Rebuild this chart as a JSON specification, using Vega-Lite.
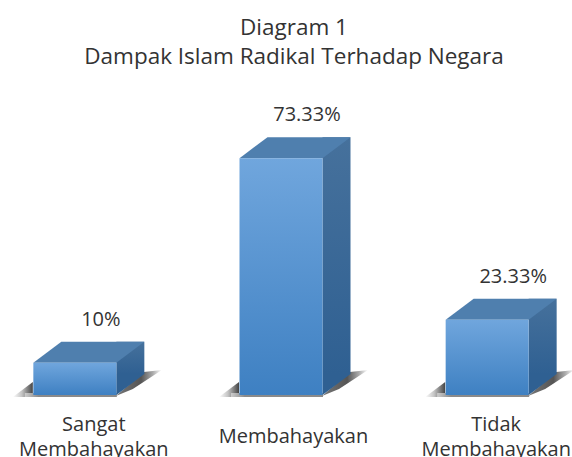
{
  "$schema": "https://vega.github.io/schema/vega-lite/v6.json",
  "width": 562,
  "height": 323,
  "autosize": {"type": "none"},
  "padding": {"left": 0, "top": 72, "right": 10, "bottom": 62},
  "background": "white",
  "title": {
    "text": ["Diagram 1", "Dampak Islam Radikal Terhadap Negara"],
    "font": "Open Sans",
    "fontSize": 22.5,
    "fontWeight": "normal",
    "color": "#333333",
    "lineHeight": 29,
    "anchor": "middle",
    "dx": 13,
    "offset": 4
  },
  "config": {"view": {"stroke": null}},
  "data": {
    "values": [
      {"category": "Sangat Membahayakan", "share": 0.10},
      {"category": "Membahayakan", "share": 0.7333},
      {"category": "Tidak Membahayakan", "share": 0.2333}
    ]
  },
  "encoding": {
    "x": {
      "field": "category",
      "type": "nominal",
      "sort": null,
      "scale": {"paddingInner": 0.598, "paddingOuter": 0.162},
      "axis": {
        "title": null,
        "domain": false,
        "ticks": false,
        "labelAngle": 0,
        "labelExpr": "split(datum.label,' ')",
        "labelFont": "Open Sans",
        "labelFontSize": 20,
        "labelColor": "#333333",
        "labelLineHeight": 25,
        "labelBaseline": {"condition": {"test": "datum.label == 'Membahayakan'", "value": "line-top"}, "value": "middle"},
        "labelPadding": 29,
        "labelOffset": {"condition": [{"test": "datum.label == 'Sangat Membahayakan'", "value": 19}, {"test": "datum.label == 'Membahayakan'", "value": 12.5}], "value": 9},
        "labelBound": false,
        "labelOverlap": false,
        "labelLimit": 300
      }
    },
    "y": {
      "field": "share",
      "type": "quantitative",
      "scale": {"domain": [0, 1]},
      "axis": null
    }
  },
  "layer": [
    {
      "mark": {
        "type": "point",
        "filled": true,
        "opacity": 1,
        "size": 4,
        "strokeWidth": 0,
        "shape": "M-62,2 L-42,-13 L-42,2 Z",
        "fill": {"x1": 0, "y1": 0, "x2": 1, "y2": 0, "gradient": "linear", "stops": [{"offset": 0, "color": "#ffffff"}, {"offset": 0.45, "color": "#c4c4c4"}, {"offset": 1, "color": "#444444"}]}
      },
      "encoding": {"y": {"datum": 0, "type": "quantitative"}}
    },
    {
      "mark": {
        "type": "point",
        "filled": true,
        "opacity": 1,
        "size": 4,
        "strokeWidth": 0,
        "shape": "M41,1 L69,-23 L87,-25 L58,-6 Z",
        "fill": {"x1": 0, "y1": 0, "x2": 1, "y2": 0, "gradient": "linear", "stops": [{"offset": 0, "color": "#777777"}, {"offset": 0.55, "color": "#555555"}, {"offset": 0.8, "color": "#aaaaaa"}, {"offset": 1, "color": "#ffffff"}]}
      },
      "encoding": {"y": {"datum": 0, "type": "quantitative"}}
    },
    {
      "mark": {
        "type": "point",
        "filled": true,
        "opacity": 1,
        "size": 4,
        "strokeWidth": 0,
        "shape": "M-50,2 L42,2 L42,-2 L-50,-2 Z",
        "fill": {"x1": 0, "y1": 0, "x2": 1, "y2": 0, "gradient": "linear", "stops": [{"offset": 0, "color": "#cccccc"}, {"offset": 0.15, "color": "#8a8a8a"}, {"offset": 1, "color": "#8a8a8a"}]}
      },
      "encoding": {"y": {"datum": 0, "type": "quantitative"}}
    },
    {
      "mark": {
        "type": "bar",
        "width": 28,
        "xOffset": 55.5,
        "yOffset": -21,
        "y2Offset": -21,
        "fill": {"x1": 0, "y1": 0, "x2": 0, "y2": 1, "gradient": "linear", "stops": [{"offset": 0, "color": "#46719c"}, {"offset": 1, "color": "#2f6092"}]}
      },
      "encoding": {"y2": {"datum": 0}}
    },
    {
      "mark": {
        "type": "point",
        "filled": true,
        "opacity": 1,
        "size": 4,
        "strokeWidth": 0,
        "shape": "M41.5,0 L69.5,-21 L41.5,-21 Z",
        "fill": "#2f6092"
      },
      "encoding": {"y": {"datum": 0, "type": "quantitative"}}
    },
    {
      "mark": {
        "type": "point",
        "filled": true,
        "opacity": 1,
        "size": 4,
        "strokeWidth": 0,
        "shape": "M-41.5,0 L-13.5,-21 L69.5,-21 L41.5,0 Z",
        "fill": "#4f7fae"
      }
    },
    {
      "mark": {
        "type": "bar",
        "width": 83,
        "fill": {"x1": 0, "y1": 0, "x2": 0, "y2": 1, "gradient": "linear", "stops": [{"offset": 0, "color": "#70a6dd"}, {"offset": 1, "color": "#3e80c2"}]}
      },
      "encoding": {"y2": {"datum": 0}}
    },
    {
      "mark": {
        "type": "text",
        "dx": 26,
        "dy": -43,
        "baseline": "middle",
        "font": "Open Sans",
        "fontSize": 20,
        "color": "#333333"
      },
      "encoding": {"text": {"field": "share", "type": "quantitative", "format": ".2~%"}}
    }
  ]
}
